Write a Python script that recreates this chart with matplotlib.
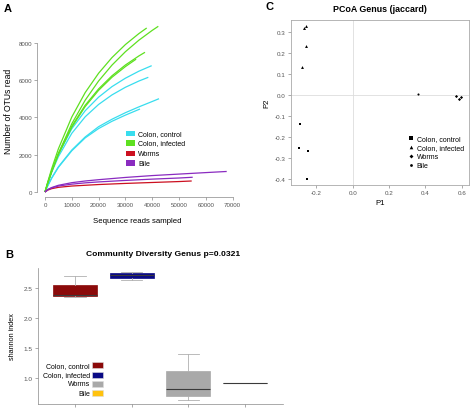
import matplotlib

matplotlib.use("Agg")
import matplotlib.pyplot as plt
from matplotlib.patches import Rectangle

plt.rcParams["font.family"] = ["Liberation Sans", "DejaVu Sans"]

W, H = 470, 410

# ---- panel A: rarefaction curves (sequence reads sampled, OTUs) ----
rare_groups = ["Colon, control", "Colon, infected", "Worms", "Bile"]
rare_colors = ["#38DDEE", "#5EE020", "#CC1020", "#8A2BC0"]

ctrl_x = [
    [0, 1000, 2500, 5000, 10000, 15000, 20000, 25000, 30000, 35000, 39810],
    [0, 1000, 2500, 5000, 10000, 15000, 20000, 25000, 30000, 35000, 38550],
    [0, 1000, 2500, 5000, 10000, 15000, 20000, 25000, 30000, 35000, 40000, 42540],
    [0, 1000, 2500, 5000, 10000, 15000, 20000, 25000, 30000, 35450],
]
ctrl_y = [
    [0, 483, 1128, 2031, 3387, 4355, 5082, 5648, 6098, 6472, 6770],
    [0, 453, 1056, 1895, 3145, 4031, 4692, 5204, 5612, 5945, 6147],
    [0, 330, 760, 1350, 2250, 2950, 3500, 3900, 4250, 4560, 4850, 5000],
    [0, 320, 740, 1320, 2210, 2900, 3400, 3790, 4120, 4448],
]
inf_x = [
    [0, 1000, 2500, 5000, 10000, 15000, 20000, 25000, 30000, 35000, 40000, 42280],
    [0, 1000, 2500, 5000, 10000, 15000, 20000, 25000, 30000, 35000, 37950],
    [0, 1000, 2500, 5000, 10000, 15000, 20000, 25000, 30000, 35000, 37310],
    [0, 1000, 2500, 5000, 10000, 15000, 20000, 25000, 30000, 34000],
]
inf_y = [
    [0, 461, 1105, 2066, 3658, 4921, 5949, 6801, 7518, 8132, 8661, 8880],
    [0, 527, 1252, 2315, 4021, 5329, 6365, 7205, 7901, 8486, 8789],
    [0, 471, 1115, 2051, 3531, 4650, 5525, 6229, 6806, 7289, 7487],
    [0, 460, 1090, 2010, 3470, 4580, 5450, 6150, 6720, 7120],
]
worm_x = [[0, 1000, 2500, 5000, 10000, 15000, 20000, 30000, 40000, 50000, 54740]]
worm_y = [[0, 100, 180, 250, 320, 360, 400, 460, 510, 560, 590]]
bile_x = [
    [0, 1000, 2500, 5000, 10000, 15000, 20000, 30000, 40000, 50000, 60000, 67800],
    [0, 1000, 2500, 5000, 10000, 15000, 20000, 30000, 40000, 50000, 55110],
]
bile_y = [
    [0, 130, 240, 360, 500, 590, 660, 780, 880, 960, 1040, 1100],
    [0, 120, 220, 320, 420, 490, 540, 620, 690, 750, 790],
]
rare_xticks = [0, 10000, 20000, 30000, 40000, 50000, 60000, 70000]
rare_yticks = [0, 2000, 4000, 6000, 8000]

# ---- panel B: shannon index boxplot ----
box_groups = ["Colon, control", "Colon, infected", "Worms", "Bile"]
box_colors = ["#8B0A0A", "#0A0A85", "#A9A9A9", "#FFC20E"]
box_med = [2.39, 2.72, 0.817, 0.92]
box_q1 = [2.377, 2.667, 0.71, 0.92]
box_q3 = [2.555, 2.75, 1.117, 0.92]
box_lo = [2.35, 2.64, 0.643, 0.92]
box_hi = [2.71, 2.777, 1.405, 0.92]
box_yticks = [1.0, 1.5, 2.0, 2.5]

# ---- panel C: PCoA (jaccard) ----
pcoa_groups = ["Colon, control", "Colon, infected", "Worms", "Bile"]
pcoa_markers = ["s", "^", "D", "o"]
pcoa_x = [
    [-0.288, -0.297, -0.247, -0.253],
    [-0.255, -0.266, -0.258, -0.279],
    [0.568, 0.593, 0.586],
    [0.359],
]
pcoa_y = [
    [-0.140, -0.254, -0.265, -0.400],
    [0.329, 0.319, 0.232, 0.132],
    [-0.003, -0.011, -0.020],
    [0.005],
]
pcoa_xticks = [-0.2, 0.0, 0.2, 0.4, 0.6]
pcoa_yticks = [-0.4, -0.3, -0.2, -0.1, 0.0, 0.1, 0.2, 0.3]

TICK_C = "#555555"
AXIS_C = "#888888"


def fx(px):
    return px / W


def fy(py):
    return 1 - py / H


def add_axes_px(fig, left, top, right, bottom):
    return fig.add_axes([fx(left), fy(bottom), (right - left) / W, (bottom - top) / H])


def style_ticks(ax, size):
    ax.tick_params(direction="out", length=2, width=0.5, color=AXIS_C, labelcolor=TICK_C,
                   labelsize=size, pad=1.5)


fig = plt.figure(figsize=(4.7, 4.1), dpi=100)

# panel A
ax = add_axes_px(fig, 37.3, 25, 238, 198.3)
series = [(ctrl_x, ctrl_y), (inf_x, inf_y), (worm_x, worm_y), (bile_x, bile_y)]
for (xs, ys), col in zip(series, rare_colors):
    for x, y in zip(xs, ys):
        ax.plot(x, y, color=col, lw=0.9, solid_capstyle="butt")
ax.set_xlim(-2873, 72015)
ax.set_ylim(-284, 9003)
for s in ["top", "right"]:
    ax.spines[s].set_visible(False)
for s in ["left", "bottom"]:
    ax.spines[s].set_color(AXIS_C)
    ax.spines[s].set_linewidth(0.5)
ax.spines["left"].set_bounds(0, 8000)
ax.spines["bottom"].set_bounds(0, 70000)
ax.set_xticks(rare_xticks)
ax.set_yticks(rare_yticks)
style_ticks(ax, 4.4)
ax.set_xlabel("Sequence reads sampled", fontsize=5.6, labelpad=7)
ax.set_ylabel("Number of OTUs read", fontsize=6.2, labelpad=4)

rows_a = [134.7, 144, 154.7, 164]
for name, col, r in zip(rare_groups, rare_colors, rows_a):
    fig.add_artist(Rectangle((fx(126), fy(r + 2.6)), 8.7 / W, 5.2 / H,
                             transform=fig.transFigure, color=col, lw=0))
    fig.text(fx(138), fy(r), name, fontsize=5, va="center", ha="left")

fig.text(fx(8), fy(8.5), "A", fontsize=8, fontweight="bold", ha="center", va="center")

# panel B
bx = add_axes_px(fig, 37.7, 269, 283, 405)
stats = []
for name, m, q1, q3, lo, hi in zip(box_groups, box_med, box_q1, box_q3, box_lo, box_hi):
    stats.append({"label": name, "med": m, "q1": q1, "q3": q3, "whislo": lo, "whishi": hi})
parts = bx.bxp(stats, positions=[1, 2, 3, 4], widths=0.776, capwidths=0.38,
               patch_artist=True, showfliers=False,
               whiskerprops=dict(color="#b0b0b0", lw=0.6),
               capprops=dict(color="#b0b0b0", lw=0.6),
               medianprops=dict(color="#3a3a3a", lw=0.8))
for patch, col in zip(parts["boxes"], box_colors):
    patch.set_facecolor(col)
    patch.set_edgecolor(col)
    patch.set_linewidth(0.5)
parts["boxes"][3].set_edgecolor("#3a3a3a")
bx.set_xlim(0.342, 4.668)
bx.set_ylim(0.572, 2.838)
bx.set_xticks([1, 2, 3, 4])
bx.set_xticklabels([])
bx.set_yticks(box_yticks)
bx.set_yticklabels([f"{v:.1f}" for v in box_yticks])
for s in ["top", "right"]:
    bx.spines[s].set_visible(False)
for s in ["left", "bottom"]:
    bx.spines[s].set_color(AXIS_C)
    bx.spines[s].set_linewidth(0.5)
style_ticks(bx, 4.6)
bx.set_ylabel("shannon index", fontsize=5.2, labelpad=6)
bx.set_title("Community Diversity Genus p=0.0321", fontsize=6.1, fontweight="bold",
             x=(163 - 37.7) / (283 - 37.7), pad=9)

rows_b = [366.3, 375.7, 385, 394.3]
for name, col, r in zip(box_groups, box_colors, rows_b):
    fig.add_artist(Rectangle((fx(92), fy(r + 3)), 10.7 / W, 6 / H,
                             transform=fig.transFigure, facecolor=col, edgecolor="#dddddd", lw=0.4))
    fig.text(fx(90), fy(r), name, fontsize=5, va="center", ha="right")

fig.text(fx(9.7), fy(255.5), "B", fontsize=8, fontweight="bold", ha="center", va="center")

# panel C
cx = add_axes_px(fig, 290.7, 20.7, 469.3, 185.7)
cx.axhline(0, color="#dddddd", lw=0.6, zorder=0)
cx.axvline(0, color="#dddddd", lw=0.6, zorder=0)
for xs, ys, mk in zip(pcoa_x, pcoa_y, pcoa_markers):
    ms = {"s": 1.8, "^": 2.1, "D": 1.6, "o": 1.5}[mk]
    cx.plot(xs, ys, linestyle="none", marker=mk, ms=ms, color="black", mew=0)
cx.set_xlim(-0.3407, 0.6407)
cx.set_ylim(-0.4271, 0.3586)
cx.set_xticks(pcoa_xticks)
cx.set_xticklabels([f"{v:.1f}" for v in pcoa_xticks])
cx.set_yticks(pcoa_yticks)
cx.set_yticklabels([f"{v:.1f}" for v in pcoa_yticks])
for s in cx.spines.values():
    s.set_color("#aaaaaa")
    s.set_linewidth(0.6)
style_ticks(cx, 4.5)
cx.set_xlabel("P1", fontsize=5.6, labelpad=3)
cx.set_ylabel("P2", fontsize=5.6, labelpad=3)
cx.set_title("PCoA Genus (jaccard)", fontsize=6.4, fontweight="bold", pad=6)

rows_c = [139.3, 148.3, 157.3, 166.3]
for name, mk, r in zip(pcoa_groups, pcoa_markers, rows_c):
    ms = {"s": 2.3, "^": 2.6, "D": 2.0, "o": 2.0}[mk]
    fig.add_artist(plt.Line2D([fx(410.7)], [fy(r)], transform=fig.transFigure,
                              marker=mk, ms=ms, color="black", mew=0, linestyle="none"))
    fig.text(fx(416.7), fy(r), name, fontsize=5, va="center", ha="left")

fig.text(fx(269), fy(7.3), "C", fontsize=8, fontweight="bold", ha="center", va="center")

fig.savefig("out.png", dpi=100)
